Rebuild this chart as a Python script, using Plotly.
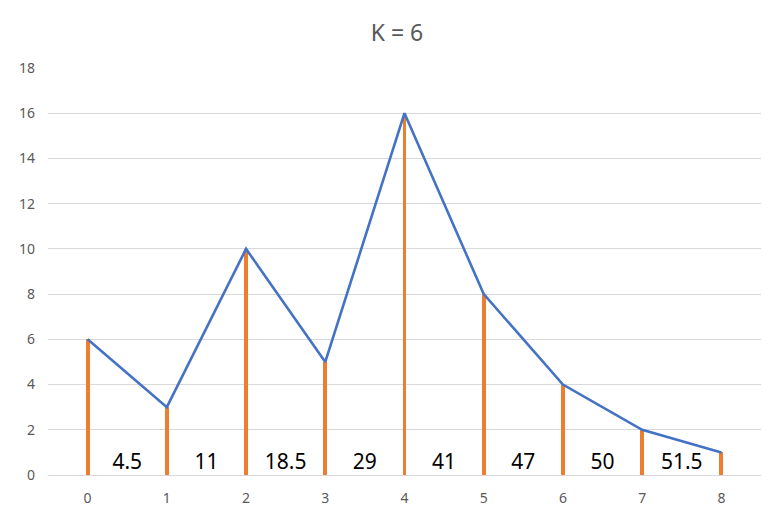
import plotly.graph_objects as go

x_vals = [0, 1, 2, 3, 4, 5, 6, 7, 8]
y_vals = [6, 3, 10, 5, 16, 8, 4, 2, 1]
area_labels = ["4.5", "11", "18.5", "29", "41", "47", "50", "51.5"]
label_x = [0.5, 1.5, 2.5, 3.5, 4.5, 5.5, 6.5, 7.5]
y_ticks = [0, 2, 4, 6, 8, 10, 12, 14, 16, 18]

fig = go.Figure()

# orange vertical stems
fig.add_trace(go.Bar(
    x=x_vals, y=y_vals, width=0.05,
    marker=dict(color="#ED7D31", line=dict(width=0)),
    hoverinfo="skip", showlegend=False,
))

# blue line
fig.add_trace(go.Scatter(
    x=x_vals, y=y_vals, mode="lines",
    line=dict(color="#4472C4", width=2.6),
    showlegend=False,
))

# area labels
fig.add_trace(go.Scatter(
    x=label_x, y=[0.5] * len(label_x), mode="text",
    text=area_labels,
    textfont=dict(size=21, color="#000000", family="Noto Sans"),
    showlegend=False,
))

fig.update_layout(
    width=778, height=520,
    margin=dict(l=40, r=25, t=60, b=53),
    paper_bgcolor="white", plot_bgcolor="white",
    font=dict(family="Noto Sans", color="#595959", size=14),
    title=dict(text="K = 6", x=0.5, xanchor="center", y=0.952, yanchor="middle",
               font=dict(size=23, color="#595959", family="Noto Sans")),
    bargap=0,
    xaxis=dict(range=[-0.5, 8.5], tickmode="array", tickvals=x_vals,
               showgrid=False, zeroline=False, showline=False,
               ticks="", ticklabelstandoff=13, tickfont=dict(size=14, color="#595959")),
    yaxis=dict(range=[0, 18], tickmode="array", tickvals=y_ticks,
               showgrid=True, gridcolor="#D9D9D9", gridwidth=1,
               zeroline=True, zerolinecolor="#D9D9D9", zerolinewidth=1,
               showline=False, ticks="", ticklabelstandoff=12,
               tickfont=dict(size=14, color="#595959")),
)

fig.write_html("out.html")
